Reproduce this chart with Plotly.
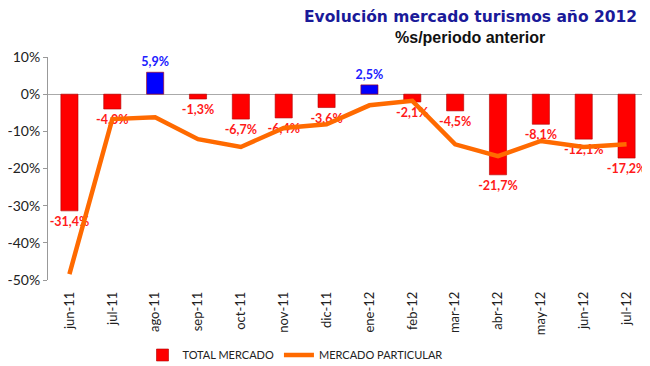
import plotly.graph_objects as go

categories = ["jun-11", "jul-11", "ago-11", "sep-11", "oct-11", "nov-11", "dic-11",
              "ene-12", "feb-12", "mar-12", "abr-12", "may-12", "jun-12", "jul-12"]
total_mercado = [-31.4, -4.0, 5.9, -1.3, -6.7, -6.4, -3.6, 2.5, -2.1, -4.5, -21.7, -8.1, -12.1, -17.2]
mercado_particular = [-48.4, -6.7, -6.2, -12.1, -14.2, -9.1, -8.1, -3.0, -1.8, -13.5, -16.7, -12.6, -14.2, -13.5]
tick_vals = [10, 0, -10, -20, -30, -40, -50]
tick_text = ["10%", "0%", "-10%", "-20%", "-30%", "-40%", "-50%"]

bar_colors = ["#0000ff" if v > 0 else "#ff0000" for v in total_mercado]
text_colors = ["#2020ff" if v > 0 else "#ff1a1a" for v in total_mercado]
labels = ["<b>" + ("%.1f%%" % v).replace(".", ",") + "</b>" for v in total_mercado]

# page has an 8px default body margin; the figure is sized to fill the rest of the window
OFF = 8
W, H = 650 - OFF, 366 - OFF
L, R = 48 - OFF, 2
T = 57 - OFF
B = H - (280 - OFF)
PW, PH = W - L - R, H - T - B

def px_x(x):
    return (x - OFF - L) / PW

def px_y(y):
    return (H - B - (y - OFF)) / PH

fig = go.Figure()
fig.add_trace(go.Bar(
    x=categories, y=total_mercado, name="TOTAL MERCADO",
    marker=dict(color=bar_colors, line=dict(color="#b00000", width=0.6)),
    width=0.4,
    text=labels, textposition="outside", cliponaxis=False, constraintext="none",
    textfont=dict(family="Lato", size=12.5, color=text_colors),
))
fig.add_trace(go.Scatter(
    x=categories, y=mercado_particular, name="MERCADO PARTICULAR",
    mode="lines", line=dict(color="#ff6a00", width=4.5),
))

fig.update_layout(
    width=W, height=H,
    paper_bgcolor="white", plot_bgcolor="white",
    margin=dict(l=L, r=R, t=T, b=B, autoexpand=False),
    showlegend=True,
    legend=dict(orientation="h", x=px_x(295), xanchor="center", y=px_y(355), yanchor="middle",
                font=dict(family="Lato", size=11, color="#222"), traceorder="normal"),
    annotations=[
        dict(text="<b>Evolución mercado turismos año 2012</b>", xref="paper", yref="paper",
             x=px_x(639), y=px_y(17), xanchor="right", yanchor="middle",
             font=dict(family="DejaVu Sans", size=15.5, color="#1a1a99"), showarrow=False),
        dict(text="<b>%s/periodo anterior</b>", xref="paper", yref="paper",
             x=px_x(470), y=px_y(38), xanchor="center", yanchor="middle",
             font=dict(family="Liberation Sans", size=16, color="#111"), showarrow=False),
    ],
)
fig.update_xaxes(showline=False, ticks="", tickangle=-90, automargin=False,
                 ticklabelstandoff=8,
                 tickfont=dict(family="Lato", size=13, color="#222"), showgrid=False)
fig.update_yaxes(range=[-50, 10], tickvals=tick_vals, ticktext=tick_text, automargin=False,
                 showline=True, linecolor="#999", linewidth=1, ticks="outside", ticklen=4,
                 tickcolor="#999", showgrid=False, zeroline=True, zerolinecolor="#aaa",
                 zerolinewidth=1, tickfont=dict(family="Lato", size=14, color="#222"))
fig.write_html("out.html")
